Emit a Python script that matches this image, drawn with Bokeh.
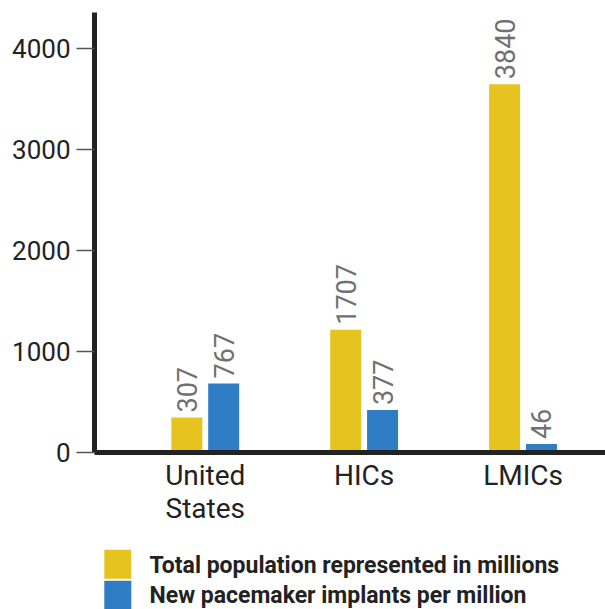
import math
from bokeh.plotting import figure
from bokeh.layouts import column
from bokeh.models import ColumnDataSource, FixedTicker, Range1d
from bokeh.core.properties import value
from bokeh.embed import file_html
from bokeh.resources import INLINE

# ---- data ----
categories = ["United\nStates", "HICs", "LMICs"]
series_names = ["Total population represented in millions",
                "New pacemaker implants per million"]
series_colors = ["#E7C31F", "#2E7DC5"]
# bar heights as drawn in the picture
population_heights = [347, 1216, 3650]
implants_heights = [684, 420, 83]
# value labels printed above the bars
population_labels = ["307", "1707", "3840"]
implants_labels = ["767", "377", "46"]
y_ticks = [0, 1000, 2000, 3000, 4000]

xpos = [1, 2, 3]
bar_w = 0.195
off = 0.116

p = figure(width=605, height=540, output_backend="svg", toolbar_location=None,
           x_range=Range1d(0.303, 3.519), y_range=Range1d(0, 4360),
           min_border_left=94, min_border_right=0, min_border_top=12,
           min_border_bottom=88)
p.outline_line_color = None
p.xgrid.visible = False
p.ygrid.visible = False
p.background_fill_color = "white"
p.border_fill_color = "white"

src_a = ColumnDataSource(dict(x=[v - off for v in xpos], top=population_heights,
                              lab=population_labels))
src_b = ColumnDataSource(dict(x=[v + off for v in xpos], top=implants_heights,
                              lab=implants_labels))
p.vbar(x="x", top="top", width=bar_w, source=src_a, fill_color=series_colors[0],
       line_color=None)
p.vbar(x="x", top="top", width=bar_w, source=src_b, fill_color=series_colors[1],
       line_color=None)

for src in (src_a, src_b):
    p.text(x="x", y="top", text="lab", source=src, angle=math.pi / 2,
           text_align="left", text_baseline="middle", y_offset=-5,
           text_font=value("Roboto"), text_font_size="27px", text_color="#707070")

# y axis
ya = p.yaxis[0]
ya.ticker = FixedTicker(ticks=y_ticks)
ya.axis_line_width = 5
ya.axis_line_color = "#222222"
ya.major_tick_out = 18
ya.major_tick_in = 0
ya.major_tick_line_color = "#555555"
ya.major_tick_line_width = 1.5
ya.minor_tick_line_color = None
ya.major_label_text_font = "Roboto"
ya.major_label_text_font_size = "26px"
ya.major_label_text_color = "#222222"
ya.major_label_standoff = 6

# x axis
xa = p.xaxis[0]
xa.ticker = FixedTicker(ticks=xpos)
xa.major_label_overrides = {v: c for v, c in zip(xpos, categories)}
xa.axis_line_width = 5
xa.axis_line_color = "#222222"
xa.major_tick_out = 0
xa.major_tick_in = 0
xa.major_tick_line_color = None
xa.minor_tick_line_color = None
xa.major_label_text_font = "Roboto"
xa.major_label_text_font_size = "28px"
xa.major_label_text_color = "#222222"
xa.major_label_text_line_height = 1.0
xa.major_label_standoff = 6

# legend figure (frame coordinates equal screen pixels from x=94)
lg = figure(width=605, height=69, output_backend="svg", toolbar_location=None,
            x_range=Range1d(94, 605), y_range=Range1d(0, 69),
            x_axis_location=None, y_axis_location=None,
            min_border_left=94, min_border_right=0, min_border_top=0,
            min_border_bottom=0)
lg.xgrid.visible = False
lg.ygrid.visible = False
lg.outline_line_color = None
leg_src = ColumnDataSource(dict(x=[117.3, 117.3], y=[45.2, 14.2],
                                color=series_colors, name=series_names,
                                tx=[149, 149], ty=[44, 14]))
lg.rect(x="x", y="y", width=27, height=29, source=leg_src, fill_color="color",
        line_color=None)
lg.text(x="tx", y="ty", text="name", source=leg_src, text_align="left",
        text_baseline="middle", text_font=value("Roboto"), text_font_style="bold",
        text_font_size="23px", text_color="#222222")

layout = column(p, lg, spacing=0)
open("out.html", "w").write(file_html(layout, INLINE))
